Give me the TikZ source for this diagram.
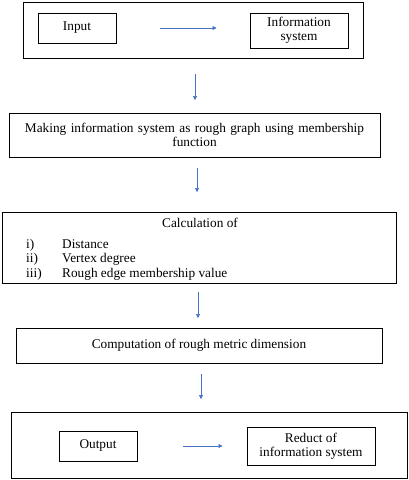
\documentclass[tikz,border=0pt]{standalone}
\usepackage{fontspec}
\setmainfont{Liberation Serif}
\usetikzlibrary{arrows.meta}
\definecolor{arrowblue}{RGB}{68,114,196}
\tikzset{
  box/.style={draw=black, line width=1pt, inner sep=0pt, align=center, font=\fontsize{13.3}{14.5}\selectfont},
  txt/.style={inner sep=0pt, font=\fontsize{13.3}{14.5}\selectfont},
  flow/.style={draw=arrowblue, line width=0.6pt, -{Triangle[width=4pt,length=4pt]}}
}
\begin{document}
\begin{tikzpicture}[x=1pt,y=-1pt]
\useasboundingbox (0,0) rectangle (409,480);
% Box 1
\node[box, minimum width=340pt, minimum height=56pt] (b1) at (193,30) {};
\node[box, minimum width=78pt, minimum height=30pt] (inp) at (77,28) {Input};
\node[box, minimum width=98pt, minimum height=35pt] (info) at (299,30.5) {Information\\system};
\draw[flow, shorten <=43pt, shorten >=33pt] (inp.east) -- (info.west |- inp.east);
% arrow 1
\coordinate (a1s) at (195,74);
\coordinate (a1e) at (195,100);
\draw[flow] (a1s) -- (a1e);
% Box 2
\node[box, minimum width=371pt, minimum height=44pt, text width=365pt] (b2) at (194.5,135) {Making information system as rough graph using membership\\function};
% arrow 2
\coordinate (a2s) at (197,168);
\coordinate (a2e) at (197,192);
\draw[flow] (a2s) -- (a2e);
% Box 3
\node[box, minimum width=394pt, minimum height=71pt] (b3) at (199,247.5) {};
\node[txt, anchor=base] (calc) at (200,227) {Calculation of};
\node[txt, anchor=base west] (n1) at (26,248) {i)};
\node[txt, anchor=base west] (l1) at (62,248) {Distance};
\node[txt, anchor=base west] (n2) at (26,262.5) {ii)};
\node[txt, anchor=base west] (l2) at (62,262.5) {Vertex degree};
\node[txt, anchor=base west] (n3) at (26,277) {iii)};
\node[txt, anchor=base west] (l3) at (62,277) {Rough edge membership value};
% arrow 3
\coordinate (a3s) at (198,292);
\coordinate (a3e) at (198,318);
\draw[flow] (a3s) -- (a3e);
% Box 4
\node[box, minimum width=366pt, minimum height=35pt] (b4) at (199,345.5) {Computation of rough metric dimension};
% arrow 4
\coordinate (a4s) at (201,374);
\coordinate (a4e) at (201,399);
\draw[flow] (a4s) -- (a4e);
% Box 5
\node[box, minimum width=396pt, minimum height=66pt] (b5) at (209,445) {};
\node[box, minimum width=78pt, minimum height=30pt] (out) at (98,446) {Output};
\node[box, minimum width=128pt, minimum height=38pt] (red) at (311,446) {Reduct of\\information system};
\draw[flow, shorten <=45pt, shorten >=24pt] (out.east) -- (red.west);
\end{tikzpicture}
\end{document}
